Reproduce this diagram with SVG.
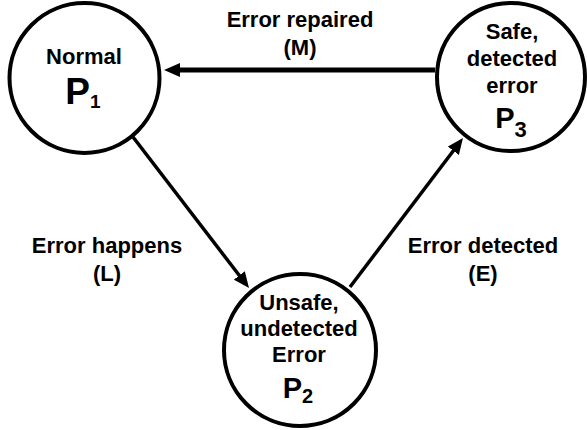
<svg xmlns="http://www.w3.org/2000/svg" width="587" height="430" viewBox="0 0 587 430">
  <style>
    .node { fill: #ffffff; stroke: #000000; stroke-width: 4; }
    .edge { stroke: #000000; fill: none; }
    .txt { font-family: "Liberation Sans", Arial, sans-serif; font-weight: bold; fill: #000000; text-anchor: middle; }
    .lbl { font-size: 22px; }
  </style>
  <defs>
    <marker id="arrow" markerUnits="userSpaceOnUse" markerWidth="16" markerHeight="14" refX="2" refY="7" orient="auto">
      <path d="M0,0 L16,7 L0,14 z" fill="#000000"/>
    </marker>
  </defs>
  <rect width="587" height="430" fill="#ffffff"/>
  <g id="connectors">
    <line class="edge" x1="435" y1="70" x2="178" y2="70" stroke-width="5" marker-end="url(#arrow)"/>
    <line class="edge" x1="133" y1="137" x2="240.5" y2="277" stroke-width="3.5" marker-end="url(#arrow)"/>
    <line class="edge" x1="350" y1="287" x2="454.5" y2="149.2" stroke-width="3.5" marker-end="url(#arrow)"/>
  </g>
  <g id="edge-labels">
    <text class="txt lbl" x="300" y="27">Error repaired</text>
    <text class="txt lbl" x="300" y="55">(M)</text>
    <text class="txt lbl" x="107" y="253">Error happens</text>
    <text class="txt lbl" x="107" y="281">(L)</text>
    <text class="txt lbl" x="483" y="253">Error detected</text>
    <text class="txt lbl" x="483" y="281">(E)</text>
  </g>
  <g id="P1">
    <circle class="node" cx="84.5" cy="78" r="75"/>
    <text class="txt lbl" x="84" y="64">Normal</text>
    <text class="txt" x="83" y="104" font-size="37">P<tspan font-size="19" dy="4">1</tspan></text>
  </g>
  <g id="P3">
    <circle class="node" cx="511" cy="77" r="74"/>
    <text class="txt lbl" x="512" y="39">Safe,</text>
    <text class="txt lbl" x="512" y="66">detected</text>
    <text class="txt lbl" x="512" y="93">error</text>
    <text class="txt" x="511" y="128" font-size="29">P<tspan font-size="22" dy="9">3</tspan></text>
  </g>
  <g id="P2">
    <circle class="node" cx="300" cy="350" r="76"/>
    <text class="txt lbl" x="299" y="310">Unsafe,</text>
    <text class="txt lbl" x="299" y="336">undetected</text>
    <text class="txt lbl" x="299" y="362">Error</text>
    <text class="txt" x="298" y="398" font-size="29">P<tspan font-size="20" dy="5">2</tspan></text>
  </g>
</svg>
